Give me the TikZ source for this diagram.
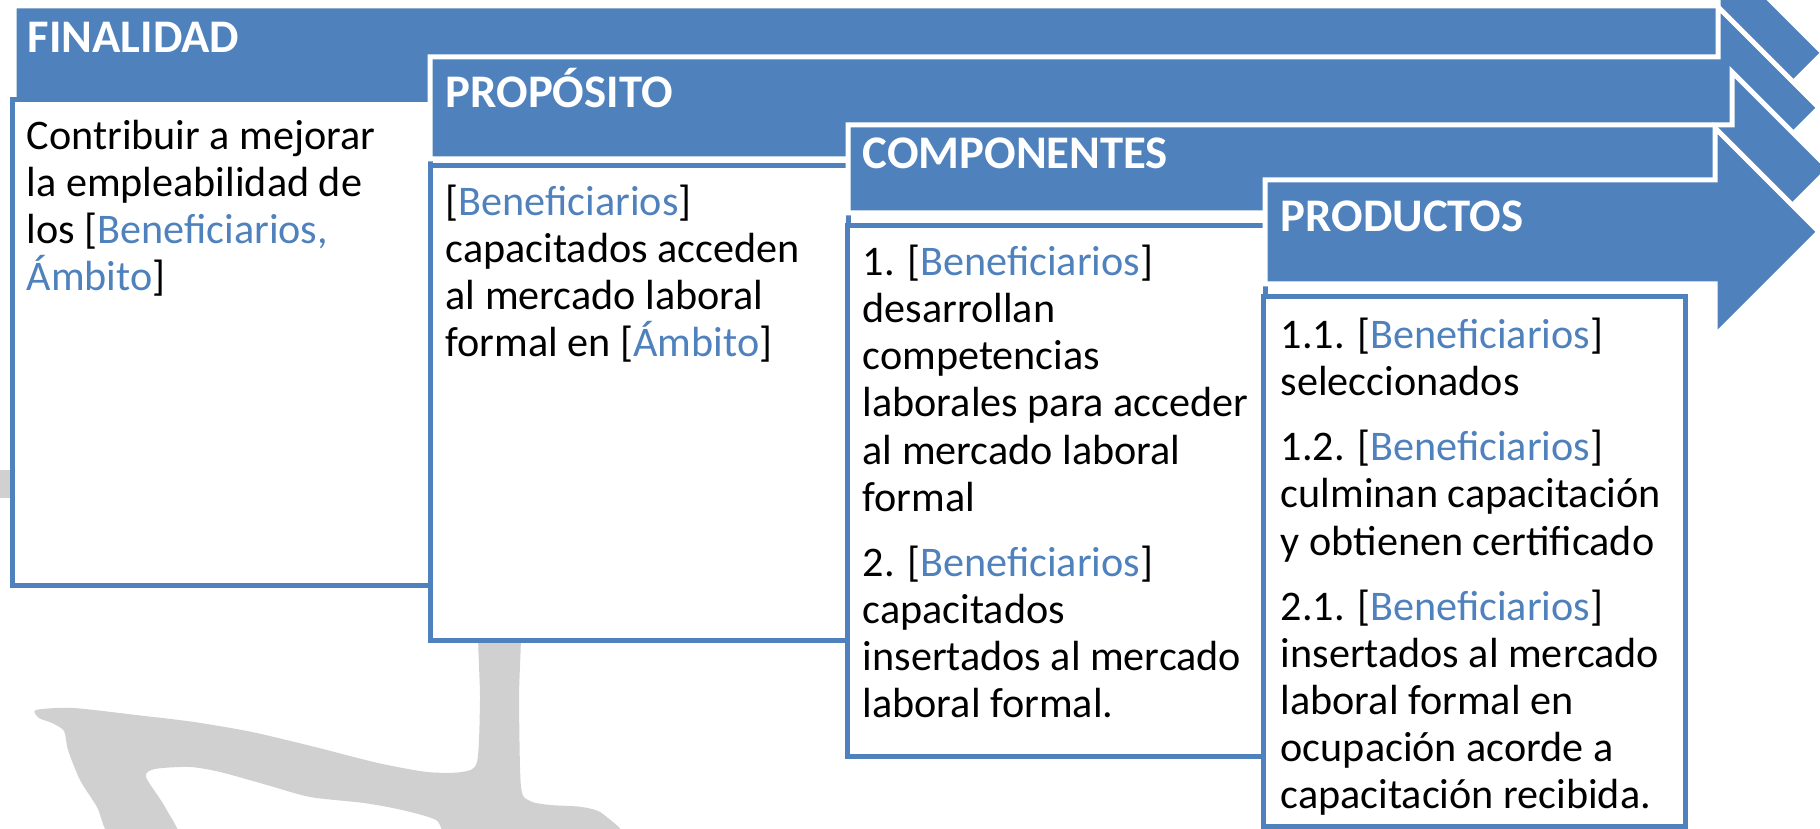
\documentclass[tikz,border=0pt]{standalone}
\usepackage{fontspec}
\setmainfont{Carlito}
\usepackage{tikz}
\usetikzlibrary{calc}
\definecolor{mlblue}{RGB}{79,129,189}
\definecolor{wmgray}{RGB}{208,208,208}
\newcommand{\stagearrow}[5] % left x, top y, bottom y, head x, head half height (all in px)
{
	% body and head as one outline, white rim
	\filldraw[fill=mlblue, draw=white, line width=0.5mm]
		(#1,#2) -- (#4,#2) -- (#4,{(#2+#3)/2-#5}) -- ({#4+#5},{(#2+#3)/2})
		-- (#4,{(#2+#3)/2+#5}) -- (#4,#3) -- (#1,#3) -- cycle;
}
\newcommand{\stagebox}[4] % left x, top y, right x, bottom y (px)
{
	% white box, blue frame
	\filldraw[fill=white, draw=mlblue, line width=0.5mm] (#1,#2) rectangle (#3,#4);
}
\newcommand{\benef}[1]{\textcolor{mlblue}{#1}}

\begin{document}
\begin{tikzpicture}[x=0.1mm, y=-0.1mm,
	every node/.style={inner sep=0pt},
	stagetitle/.style={anchor=base west, text=white, font=\fontsize{13.3}{16}\selectfont\bfseries},
	stagetext/.style={anchor=north west, align=left, font=\fontsize{12}{13.4}\selectfont}]
	% 1820 x 829 px, 1 px = 0.1 mm, y grows downwards
	% text nodes: top = first baseline - 33 px (strut height)
	\useasboundingbox (0,0) rectangle (1820,829);
	\clip (0,0) rectangle (1820,829);
	
	% watermark behind everything
	\fill[wmgray] (-5,470) rectangle (20,498);
	\fill[wmgray] plot[smooth cycle, tension=0.45] coordinates {
		(36,710) (73,708) (136,715) (194,722) (252,732) (315,747) (378,763)
		(427,772) (462,772) (477,762) (480,700) (480,600) (519,600) (519,700)
		(521,787) (530,801) (550,805) (582,807) (603,814) (618,840) (460,840)
		(436,820) (402,810) (364,803) (310,797) (267,785) (220,772) (190,767)
		(155,769) (146,777) (165,807) (178,840) (114,840) (97,807) (80,780)
		(68,750) (64,731) (52,723) (39,718)};
	
	% FINALIDAD
	\stagearrow{14}{6}{100}{1718}{105};
	\stagebox{12}{100}{430}{586};
	\node[stagetitle] (fintit) at (27,53) {FINALIDAD};
	\node[stagetext] (fintxt) at (26,116) {\strut Contribuir a mejorar\\
		la empleabilidad de\\
		los [\benef{Beneficiarios,}\\
		\benef{Ámbito}]};
	
	% PROPOSITO
	\stagearrow{430}{57}{159}{1718}{101};
	\stagebox{430}{166}{848}{641};
	\node[stagetitle] (protit) at (445,108) {PROPÓSITO};
	\node[stagetext] (protxt) at (445,182) {\strut[\benef{Beneficiarios}]\\
		capacitados acceden\\
		al mercado laboral\\
		formal en [\benef{Ámbito}]};
	
	% COMPONENTES
	\stagearrow{848}{125}{213}{1732}{97};
	\stagebox{847}{226}{1265}{757};
	\node[stagetitle] (comtit) at (862,169) {COMPONENTES};
	\node[stagetext] (comtxt) at (862,242) {\strut 1. [\benef{Beneficiarios}]\\
		desarrollan\\
		competencias\\
		laborales para acceder\\
		al mercado laboral\\
		formal\\[1.8mm]
		2. [\benef{Beneficiarios}]\\
		capacitados\\
		insertados al mercado\\
		laboral formal.};
	
	% PRODUCTOS
	\stagearrow{1265}{180}{284}{1715}{104};
	\stagebox{1263}{297}{1685}{827};
	\node[stagetitle] (prodtit) at (1280,232) {PRODUCTOS};
	\node[stagetext] (prodtxt) at (1280,315) {\strut 1.1. [\benef{Beneficiarios}]\\
		seleccionados\\[1.8mm]
		1.2. [\benef{Beneficiarios}]\\
		culminan capacitación\\
		y obtienen certificado\\[1.8mm]
		2.1. [\benef{Beneficiarios}]\\
		insertados al mercado\\
		laboral formal en\\
		ocupación acorde a\\
		capacitación recibida.};
\end{tikzpicture}
\end{document}
